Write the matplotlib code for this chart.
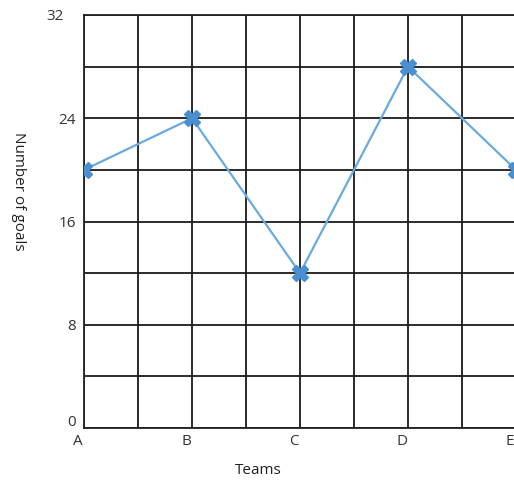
import numpy as np
import matplotlib.pyplot as plt
import matplotlib.transforms as mtransforms

teams = ['A', 'B', 'C', 'D', 'E']
goals = [20, 24, 12, 28, 20]
y_ticks = [0, 8, 16, 24, 32]

plt.rcParams['font.family'] = ['Open Sans', 'DejaVu Sans']

fig = plt.figure(figsize=(5.14, 4.84), dpi=100)
# axes runs past the right edge of the figure, as in the original
ax = fig.add_axes([84 / 514, 56 / 484, 4.5 * 108 / 514, 413 / 484])

x = np.arange(len(teams))
ax.plot(x, goals, color='#6aaade', linewidth=1.6, zorder=3)
ax.plot(x, goals, linestyle='none', marker='X', markersize=12,
        color='#4a8fd0', markeredgecolor='#4a8fd0', zorder=4)

ax.set_xlim(0, 4.5)
ax.set_ylim(0, 32)

ax.set_xticks(x)
ax.set_xticklabels(teams)
ax.set_yticks(y_ticks)
ax.set_xticks(np.arange(0, 4.51, 0.5), minor=True)
ax.set_yticks(np.arange(0, 32.1, 4), minor=True)
ax.grid(which='both', color='#1a1a1a', linewidth=1.3, zorder=1)
ax.tick_params(which='both', length=0, labelsize=11, labelcolor='#333333')
ax.tick_params(axis='x', pad=4)
ax.tick_params(axis='y', pad=6)

shift = mtransforms.ScaledTranslation(-6 / 100, 0, fig.dpi_scale_trans)
for lab in ax.get_xticklabels():
    lab.set_transform(lab.get_transform() + shift)

# nudge "0" up and "32" left, like the original
ylabs = ax.get_yticklabels()
ylabs[0].set_transform(ylabs[0].get_transform() +
                       mtransforms.ScaledTranslation(0, 7 / 100, fig.dpi_scale_trans))
ylabs[-1].set_transform(ylabs[-1].get_transform() +
                        mtransforms.ScaledTranslation(-12 / 100, 0, fig.dpi_scale_trans))

for side in ['top', 'left', 'bottom']:
    ax.spines[side].set_linewidth(1.3)
    ax.spines[side].set_color('#222222')
ax.spines['right'].set_visible(False)

fig.text(258 / 514, 1 - 471 / 484, 'Teams', ha='center', va='center',
         fontsize=11, color='#222222')
fig.text(18 / 514, 1 - 191 / 484, 'Number of goals', ha='center',
         va='center', rotation=270, fontsize=11, color='#222222')

fig.savefig('out.png', dpi=100)
